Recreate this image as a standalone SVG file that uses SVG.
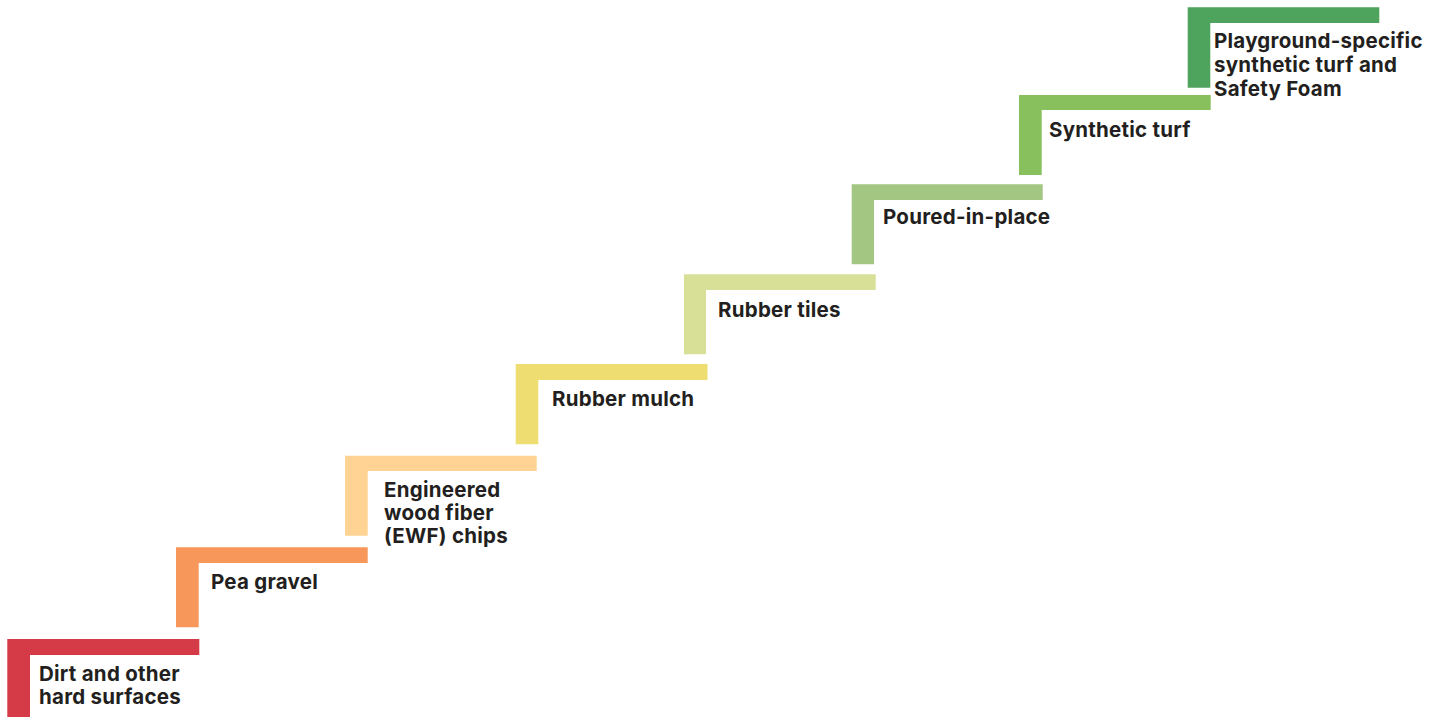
<svg xmlns="http://www.w3.org/2000/svg" width="1437" height="717" viewBox="0 0 1437 717">
<style>
.lbl{font-family:Inter,"Noto Sans","Liberation Sans",sans-serif;font-weight:700;font-size:20.5px;letter-spacing:0.25px;fill:#231f20}
</style>
<rect width="1437" height="717" fill="#ffffff"/>
<g id="step1">
<path d="M7.3,639H199.3V655H30V717H7.3Z" fill="#d43b47"/>
<text class="lbl" x="39" y="680.5">Dirt and other</text>
<text class="lbl" x="39" y="704">hard surfaces</text>
</g>
<g id="step2">
<path d="M176,547.3H367.7V563H198.7V627.3H176Z" fill="#f7975a"/>
<text class="lbl" x="211" y="589">Pea gravel</text>
</g>
<g id="step3">
<path d="M345,455.7H536.7V471H367.7V535.7H345Z" fill="#fed393"/>
<text class="lbl" x="384" y="496.7">Engineered</text>
<text class="lbl" x="384" y="520">wood fiber</text>
<text class="lbl" x="384" y="543.3">(EWF) chips</text>
</g>
<g id="step4">
<path d="M515.7,364H707.5V380H538.3V444.3H515.7Z" fill="#eedd70"/>
<text class="lbl" x="552" y="406">Rubber mulch</text>
</g>
<g id="step5">
<path d="M684,274.3H875.7V290H706V354.3H684Z" fill="#d7e096"/>
<text class="lbl" x="718" y="317.3">Rubber tiles</text>
</g>
<g id="step6">
<path d="M851.7,184.3H1042.7V200H874V264.3H851.7Z" fill="#a3c683"/>
<text class="lbl" x="883" y="224.3">Poured-in-place</text>
</g>
<g id="step7">
<path d="M1019,95H1210.7V110H1041.7V175H1019Z" fill="#88c05e"/>
<text class="lbl" x="1049" y="136.7">Synthetic turf</text>
</g>
<g id="step8">
<path d="M1187.7,7.3H1379.3V23H1210.3V87.7H1187.7Z" fill="#4ea45c"/>
<text class="lbl" x="1214" y="48">Playground-specific</text>
<text class="lbl" x="1214" y="72">synthetic turf and</text>
<text class="lbl" x="1214" y="96">Safety Foam</text>
</g>
<g id="connectors"></g>
</svg>
